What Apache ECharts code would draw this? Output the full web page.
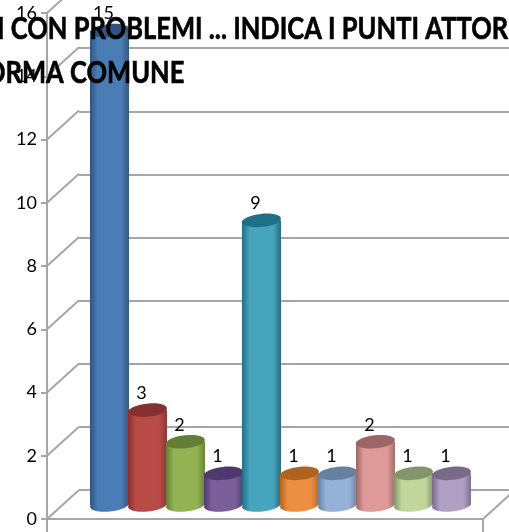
<!DOCTYPE html>
<html>
<head>
<meta charset="utf-8">
<style>html,body{margin:0;padding:0;background:#fff;overflow:hidden}#chart{width:509px;height:532px}</style>
<script src="https://cdn.jsdelivr.net/npm/echarts@6/dist/echarts.min.js"></script>
</head>
<body>
<div id="chart"></div>
<script>
var categories=['1','2','3','4','5','6','7','8','9','10'];
var values=[15,3,2,1,9,1,1,2,1,1];
var yTicks=[0,2,4,6,8,10,12,14,16];
var titleLine1='I CON PROBLEMI ... INDICA I PUNTI ATTOR';
var titleLine2='ORMA COMUNE';
var barColors=[
	['#2f5480','#4a7cb6','#36587f'],
	['#84312f','#b84a47','#8a3836'],
	['#647f34','#93b254','#6a8339'],
	['#50386f','#7a5f9a','#553f70'],
	['#1f6f85','#47a4bd','#2a6b7f'],
	['#b0631c','#ec8f42','#b5682a'],
	['#66809f','#94b1d8','#6c84a3'],
	['#9d6664','#dd9a98','#a16f6d'],
	['#84956a','#c2d69c','#8a9a70'],
	['#786b88','#b0a0c5','#7d7190']
];
var lineColor='#a6a6a6';
var font='Lato,"Liberation Sans",sans-serif';

var chart=echarts.init(document.getElementById('chart'));

//斜线：左墙和地板
function renderWall(params,api){
	var p=api.coord([0,api.value(0)]);
	var x=p[0]-api.size([1,0])[0]/2;
	return {
		type:'line',
		shape:{x1:x,y1:p[1],x2:x+32,y2:p[1]-29},
		style:{stroke:lineColor,lineWidth:2}
	};
}

function renderFloorEdges(params,api){
	var band=api.size([1,0])[0];
	var p=api.coord([0,0]);
	var q=api.coord([categories.length-1,0]);
	var left=p[0]-band/2;
	var right=q[0]+band/2;
	var style={stroke:lineColor,lineWidth:2};
	return {
		type:'group',
		children:[
			{type:'line',shape:{x1:left,y1:p[1],x2:left,y2:p[1]+14},style:style},
			{type:'line',shape:{x1:right,y1:p[1],x2:right,y2:p[1]+14},style:style},
			{type:'line',shape:{x1:right,y1:p[1],x2:right+32,y2:p[1]-29},style:style}
		]
	};
}

//圆柱
function renderCylinder(params,api){
	var i=api.value(0);
	var top=api.coord([i,api.value(1)]);
	var base=api.coord([i,0]);
	var w=api.size([1,0])[0]+1;
	var c=barColors[i];
	var rx=w/2,ry=6.5,tilt=0.1;
	var fill=new echarts.graphic.LinearGradient(0,0,1,0,[
		{offset:0,color:c[0]},
		{offset:0.2,color:c[1]},
		{offset:0.8,color:c[1]},
		{offset:1,color:c[2]}
	]);
	return {
		type:'group',
		children:[
			{type:'ellipse',shape:{cx:0,cy:0,rx:rx,ry:ry},x:base[0],y:base[1],rotation:tilt,style:{fill:fill}},
			{type:'rect',shape:{x:top[0]-rx,y:top[1],width:w,height:base[1]-top[1]},style:{fill:fill}},
			{type:'ellipse',shape:{cx:0,cy:0,rx:rx,ry:ry},x:top[0],y:top[1],rotation:tilt,style:{fill:c[0]}},
			{type:'text',x:top[0]-6,y:top[1]-17,style:{
				text:String(api.value(1)),fill:'#000',font:'18px '+font,align:'center',verticalAlign:'middle'
			}}
		]
	};
}

var wallData=[];
for(var i=0;i<yTicks.length;i++){
	wallData.push([yTicks[i]]);
}
var barData=[];
for(var i=0;i<values.length;i++){
	barData.push([i,values[i]]);
}

//标题比字体本身窄，用scaleX压缩
function titleText(text,x,y){
	return {
		type:'text',x:x,y:y,scaleX:0.85,z:100,silent:true,
		style:{text:text,fill:'#000',stroke:'#000',lineWidth:0.6,font:'bold 30px '+font,textVerticalAlign:'middle',verticalAlign:'middle'}
	};
}

chart.setOption({
	backgroundColor:'#ffffff',
	animation:false,
	graphic:[
		titleText(titleLine1,-3,29),
		titleText(titleLine2,-15,73)
	],
	grid:[
		{left:47,top:13,width:436,height:506,outerBoundsMode:'none'},
		{left:79,top:-15,width:430,height:505,outerBoundsMode:'none'},
		{left:90.5,top:-1,width:380,height:506,outerBoundsMode:'none'}
	],
	xAxis:[
		{gridIndex:0,type:'category',data:categories,axisLabel:{show:false},axisTick:{show:false},axisLine:{show:true,lineStyle:{color:lineColor,width:2}}},
		{gridIndex:1,type:'category',data:categories,show:false},
		{gridIndex:2,type:'category',data:categories,show:false}
	],
	yAxis:[
		{gridIndex:0,type:'value',min:0,max:16,interval:2,splitLine:{show:false},
			axisLine:{show:true,lineStyle:{color:lineColor,width:2}},
			axisTick:{show:true,length:6,lineStyle:{color:lineColor,width:2}},
			axisLabel:{color:'#000',fontFamily:font,fontSize:18,margin:10,padding:[8,0,0,0]}},
		{gridIndex:1,type:'value',min:0,max:16,interval:2,axisLabel:{show:false},axisTick:{show:false},axisLine:{show:false},
			splitLine:{show:true,lineStyle:{color:lineColor,width:2}}},
		{gridIndex:2,type:'value',min:0,max:16,interval:2,show:false,splitLine:{show:false}}
	],
	series:[
		{name:'wall',type:'custom',xAxisIndex:0,yAxisIndex:0,data:wallData,renderItem:renderWall,clip:false,silent:true,encode:{y:0}},
		{name:'edges',type:'custom',xAxisIndex:0,yAxisIndex:0,data:[[0]],renderItem:renderFloorEdges,clip:false,silent:true},
		{name:'valori',type:'custom',xAxisIndex:2,yAxisIndex:2,data:barData,renderItem:renderCylinder,clip:false,encode:{x:0,y:1}}
	]
});
</script>
</body>
</html>
